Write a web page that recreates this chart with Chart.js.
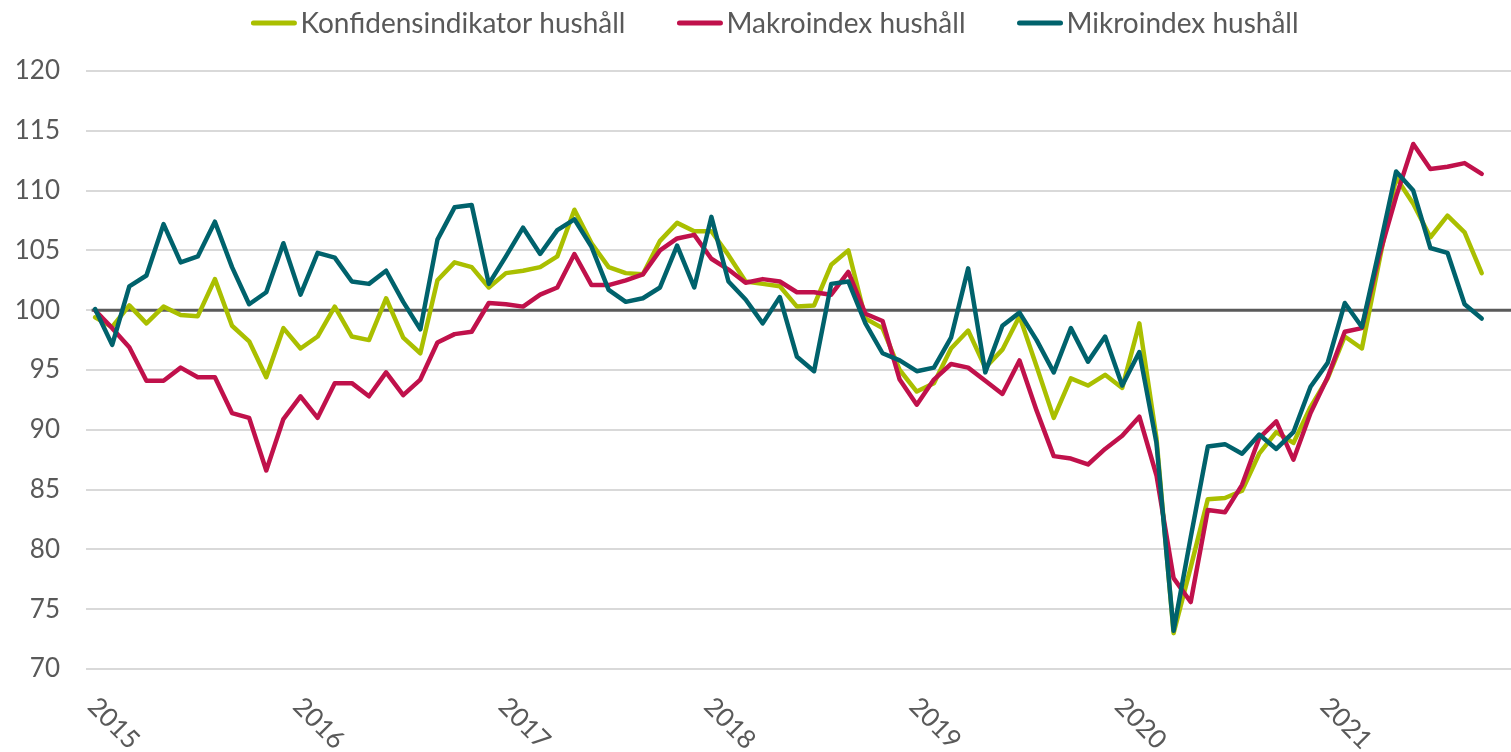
<!DOCTYPE html>
<html>
<head>
<meta charset="utf-8">
<script src="https://cdn.jsdelivr.net/npm/chart.js@4/dist/chart.umd.min.js"></script>
<style>
html,body{margin:0;padding:0;background:#fff;}
#wrap{width:1511px;height:752px;position:relative;}
</style>
</head>
<body>
<div id="wrap"><canvas id="c"></canvas></div>
<script>
// ---- data (monthly, Jan 2015 – Oct 2021) ----
const years = ['2015','2016','2017','2018','2019','2020','2021'];
const seriesNames = ['Konfidensindikator hushåll','Makroindex hushåll','Mikroindex hushåll'];
const konfidens = [
  99.4, 98.6,100.4, 98.9,100.3, 99.6, 99.5,102.6, 98.7, 97.4, 94.4, 98.5,
  96.8, 97.8,100.3, 97.8, 97.5,101.0, 97.7, 96.4,102.5,104.0,103.6,101.9,
 103.1,103.3,103.6,104.5,108.4,105.6,103.6,103.1,103.0,105.8,107.3,106.6,
 106.6,104.6,102.4,102.2,102.0,100.3,100.4,103.8,105.0, 99.3, 98.5, 95.0,
  93.2, 93.9, 96.8, 98.3, 95.2, 96.7, 99.5, 95.3, 91.0, 94.3, 93.7, 94.6,
  93.5, 98.9, 89.3, 73.0, 78.5, 84.2, 84.3, 84.9, 88.0, 89.8, 88.9, 91.9,
  94.3, 97.8, 96.8,104.0,111.1,108.9,106.1,107.9,106.5,103.1
];
const makro = [
 100.0, 98.5, 96.9, 94.1, 94.1, 95.2, 94.4, 94.4, 91.4, 91.0, 86.6, 90.9,
  92.8, 91.0, 93.9, 93.9, 92.8, 94.8, 92.9, 94.2, 97.3, 98.0, 98.2,100.6,
 100.5,100.3,101.3,101.9,104.7,102.1,102.1,102.5,103.0,105.0,106.0,106.3,
 104.3,103.4,102.3,102.6,102.4,101.5,101.5,101.3,103.2, 99.7, 99.1, 94.2,
  92.1, 94.2, 95.5, 95.2, 94.1, 93.0, 95.8, 91.6, 87.8, 87.6, 87.1, 88.4,
  89.5, 91.1, 86.2, 77.6, 75.6, 83.3, 83.1, 85.4, 89.3, 90.7, 87.5, 91.4,
  94.4, 98.2, 98.5,104.5,109.5,113.9,111.8,112.0,112.3,111.4
];
const mikro = [
 100.1, 97.1,102.0,102.9,107.2,104.0,104.5,107.4,103.6,100.5,101.5,105.6,
 101.3,104.8,104.4,102.4,102.2,103.3,100.7, 98.4,105.9,108.6,108.8,102.2,
 104.5,106.9,104.7,106.7,107.6,105.3,101.7,100.7,101.0,101.9,105.4,101.9,
 107.8,102.4,100.9, 98.9,101.1, 96.1, 94.9,102.2,102.4, 98.9, 96.4, 95.8,
  94.9, 95.2, 97.7,103.5, 94.8, 98.7, 99.8, 97.5, 94.8, 98.5, 95.7, 97.8,
  93.7, 96.5, 88.9, 73.2, 81.0, 88.6, 88.8, 88.0, 89.6, 88.4, 89.8, 93.6,
  95.6,100.6, 98.6,105.0,111.6,110.0,105.2,104.8,100.5, 99.3
];
const refLevel = 100;
const monthsPerYear = 12;

// ---- styles ----
const colors = ['#AABF00','#C0114B','#00626C'];
const textColor = '#595959';
const FONT = 'Lato, "Open Sans", sans-serif';
Chart.defaults.font.family = FONT;

const toPts = arr => arr.map((v, i) => ({x: i, y: v}));

const decor = {
  id: 'decor',
  beforeDatasetsDraw(chart) {
    const {ctx, chartArea, scales: {x, y}} = chart;
    const yp = y.getPixelForValue(refLevel);
    ctx.save();
    ctx.strokeStyle = '#5a5a5a';
    ctx.lineWidth = 3;
    ctx.beginPath();
    ctx.moveTo(x.getPixelForValue(-0.2), yp);
    ctx.lineTo(chartArea.right, yp);
    ctx.stroke();
    ctx.restore();
  },
  afterDraw(chart) {
    const {ctx, chartArea, scales: {x}} = chart;
    ctx.save();
    // rotated year labels
    ctx.font = '26px ' + FONT;
    ctx.fillStyle = textColor;
    ctx.textAlign = 'left';
    ctx.textBaseline = 'middle';
    years.forEach((yr, k) => {
      const px = x.getPixelForValue(k * monthsPerYear);
      ctx.save();
      ctx.translate(px - 3, chartArea.bottom + 33);
      ctx.rotate(Math.PI / 4);
      ctx.fillText(yr, 0, 0);
      ctx.restore();
    });
    // legend
    ctx.font = '28px ' + FONT;
    ctx.textBaseline = 'alphabetic';
    const sampleW = 45, gap = 4, itemGap = 52;
    const ds = chart.data.datasets;
    const widths = ds.map(d => sampleW + gap + ctx.measureText(d.label).width);
    const total = widths.reduce((a, b) => a + b, 0) + itemGap * (ds.length - 1);
    let xx = 775 - total / 2;
    ds.forEach((d, i) => {
      ctx.strokeStyle = d.borderColor;
      ctx.lineWidth = 5;
      ctx.lineCap = 'round';
      ctx.beginPath();
      ctx.moveTo(xx + 2, 23);
      ctx.lineTo(xx + sampleW - 2, 23);
      ctx.stroke();
      ctx.fillStyle = textColor;
      ctx.fillText(d.label, xx + sampleW + gap, 33);
      xx += widths[i] + itemGap;
    });
    ctx.restore();
  }
};

const mk = (label, data, color, order) => ({
  label, data: toPts(data), borderColor: color, backgroundColor: color,
  borderWidth: 4.5, pointRadius: 0, pointHoverRadius: 0, tension: 0,
  borderJoinStyle: 'round', borderCapStyle: 'round', fill: false, order
});

new Chart(document.getElementById('c'), {
  type: 'line',
  data: {
    datasets: [
      mk(seriesNames[0], konfidens, colors[0], 3),
      mk(seriesNames[1], makro, colors[1], 2),
      mk(seriesNames[2], mikro, colors[2], 1)
    ]
  },
  options: {
    responsive: true,
    maintainAspectRatio: false,
    animation: false,
    layout: {padding: {top: 71, right: 0, left: 0, bottom: 0}},
    plugins: {legend: {display: false}, tooltip: {enabled: false}},
    scales: {
      x: {
        type: 'linear',
        min: -0.53, max: 82.71,
        grid: {display: false},
        border: {display: false},
        ticks: {display: false},
        afterFit(s) { s.height = 83; }
      },
      y: {
        min: 70, max: 120,
        ticks: {stepSize: 5, color: textColor, font: {size: 26}, padding: 26},
        grid: {color: '#d9d9d9', lineWidth: 2, drawTicks: false},
        border: {display: false},
        afterFit(s) { s.width = 86; }
      }
    }
  },
  plugins: [decor]
});
</script>
</body>
</html>
